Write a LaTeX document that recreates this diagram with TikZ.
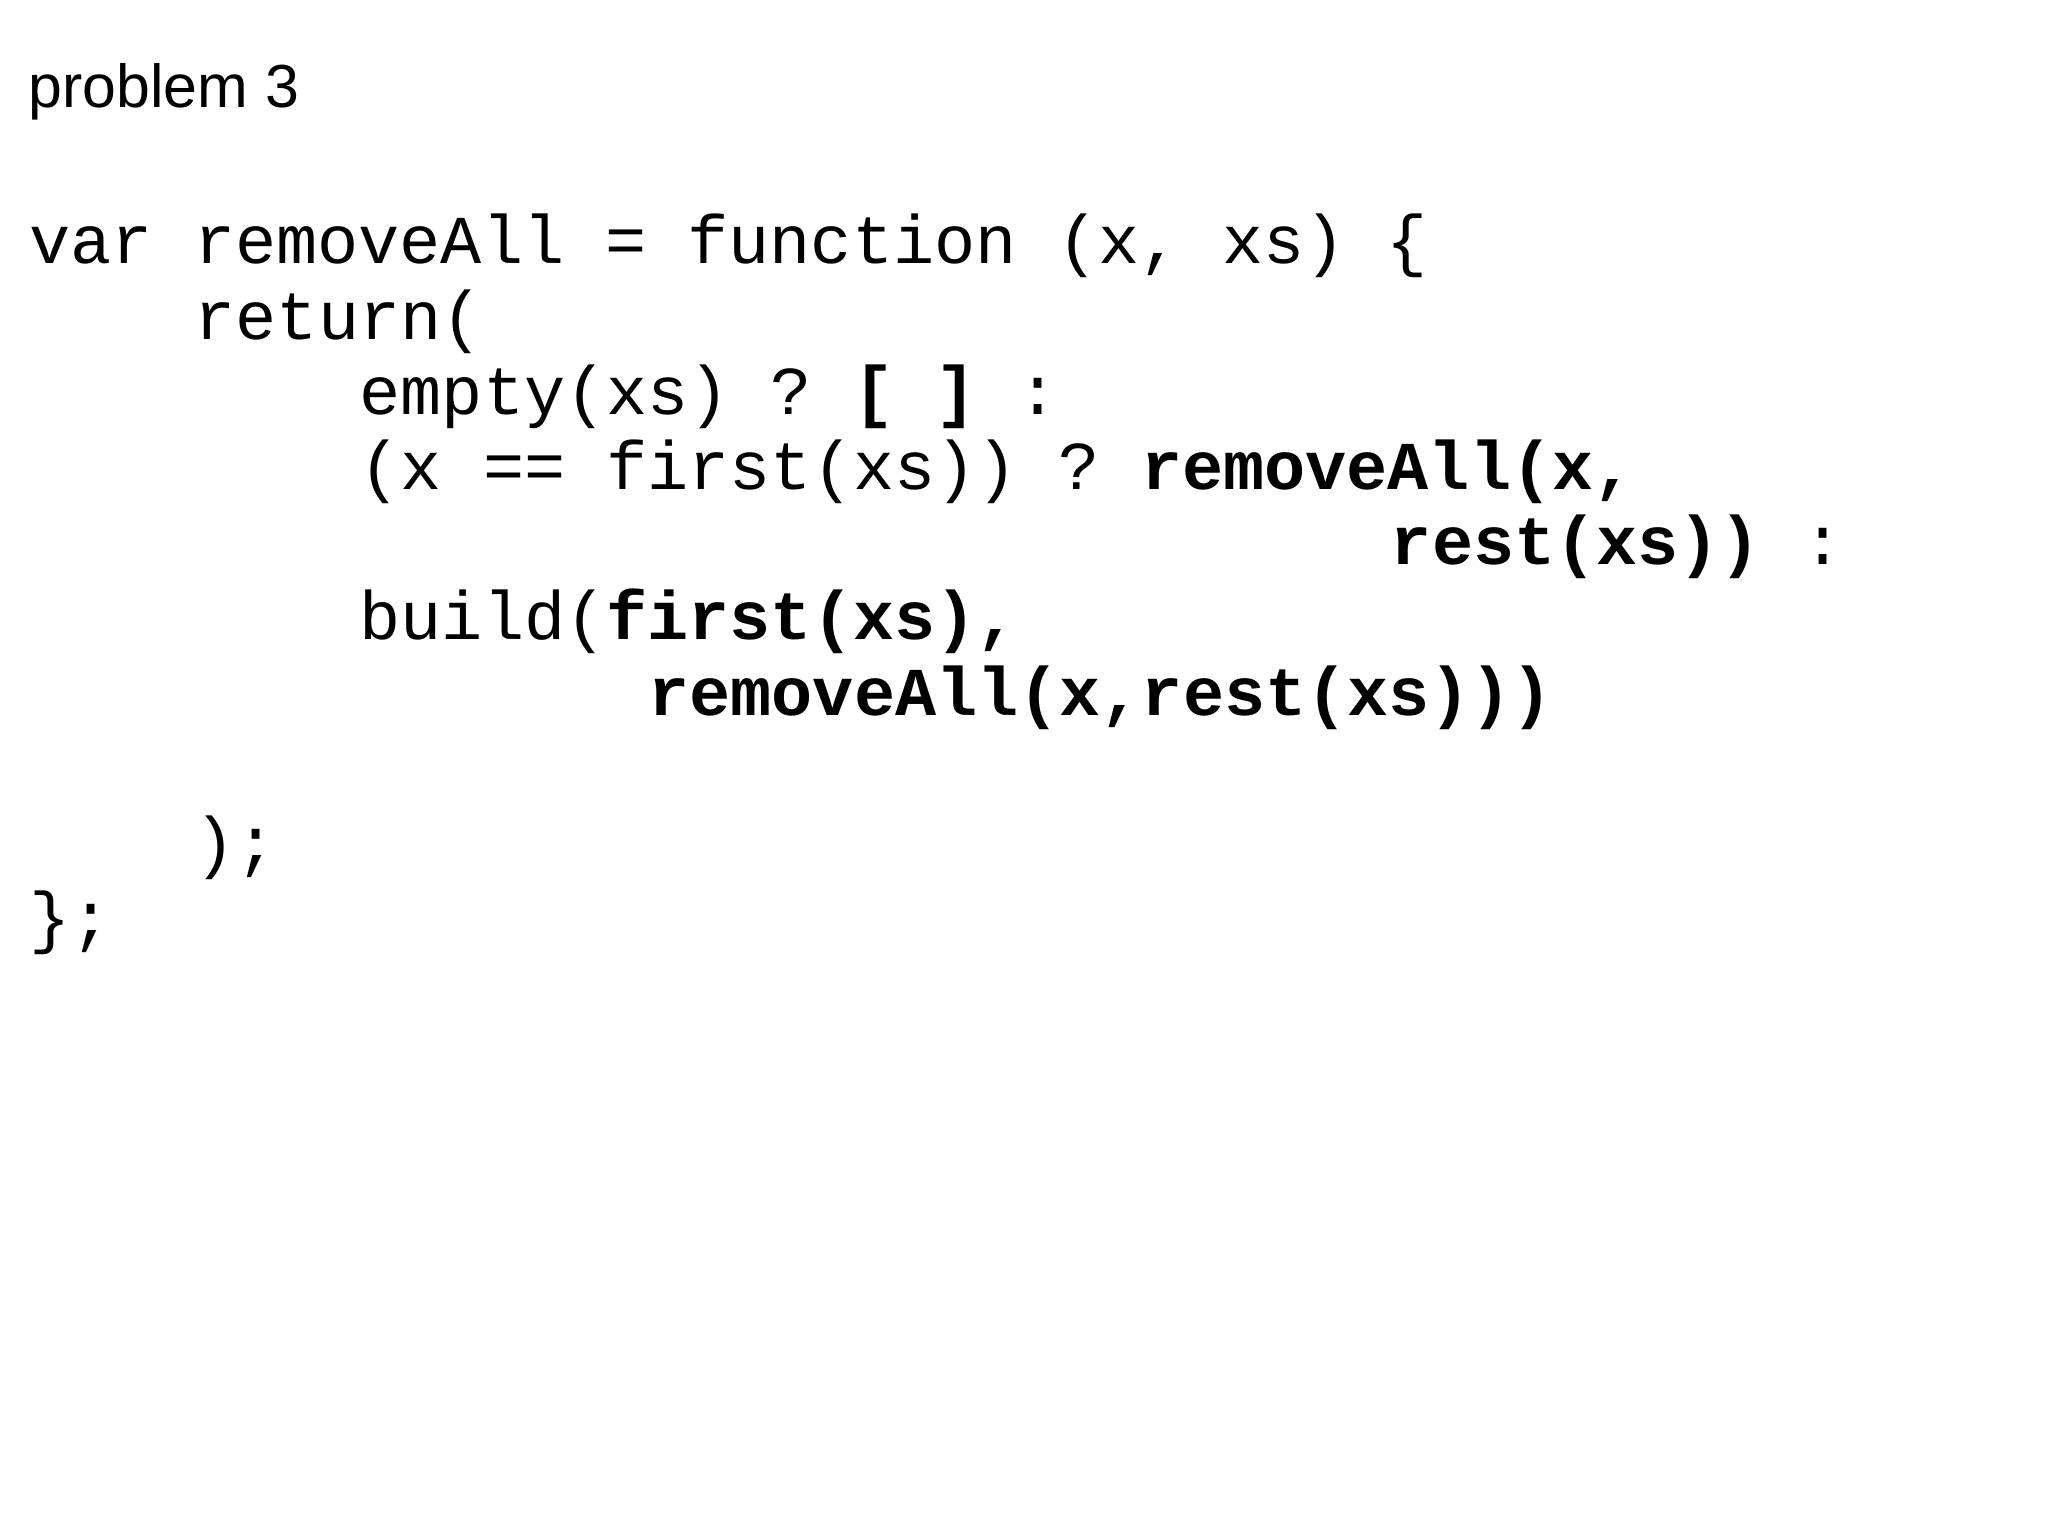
\documentclass[tikz,border=0pt]{standalone}
\usepackage{fontspec}
\setmainfont{Liberation Sans}
\setmonofont{Liberation Mono}
\usetikzlibrary{positioning}
\tikzset{
    codeline/.style={anchor=base west, inner sep=0pt, font=\fontsize{19.5}{24}\selectfont\ttfamily},
    heading/.style={anchor=base west, inner sep=0pt, font=\fontsize{17.3}{20}\selectfont},
}
\newcommand{\colx}[1]{0.29+0.4125*#1}
\newcommand{\rowy}[1]{-2.64-0.752*#1}

\begin{document}
\begin{tikzpicture}
    \useasboundingbox (0,0) rectangle (20.48,-15.36);

    % Title
    \node[heading] (title) at (0.28,-1.08) {problem 3};

    % Code lines
    \node[codeline] (head) at ({\colx{0}},{\rowy{0}}) {var removeAll = function (x, xs) \{};
    \node[codeline] (ret) at ({\colx{4}},{\rowy{1}}) {return(};
    \node[codeline] (empty) at ({\colx{8}},{\rowy{2}}) {empty(xs) ? \textbf{[ ]} :};
    \node[codeline] (eq) at ({\colx{8}},{\rowy{3}}) {(x == first(xs)) ? \textbf{removeAll(x,}};
    \node[codeline] (rest) at ({\colx{33}},{\rowy{4}}) {\textbf{rest(xs))} :};
    \node[codeline] (build) at ({\colx{8}},{\rowy{5}}) {build(\textbf{first(xs),}};
    \node[codeline] (recur) at ({\colx{15}},{\rowy{6}}) {\textbf{removeAll(x,rest(xs)))}};
    \node[codeline] (close) at ({\colx{4}},{\rowy{8}}) {);};
    \node[codeline] (tail) at ({\colx{0}},{\rowy{9}}) {\};};

\end{tikzpicture}
\end{document}
